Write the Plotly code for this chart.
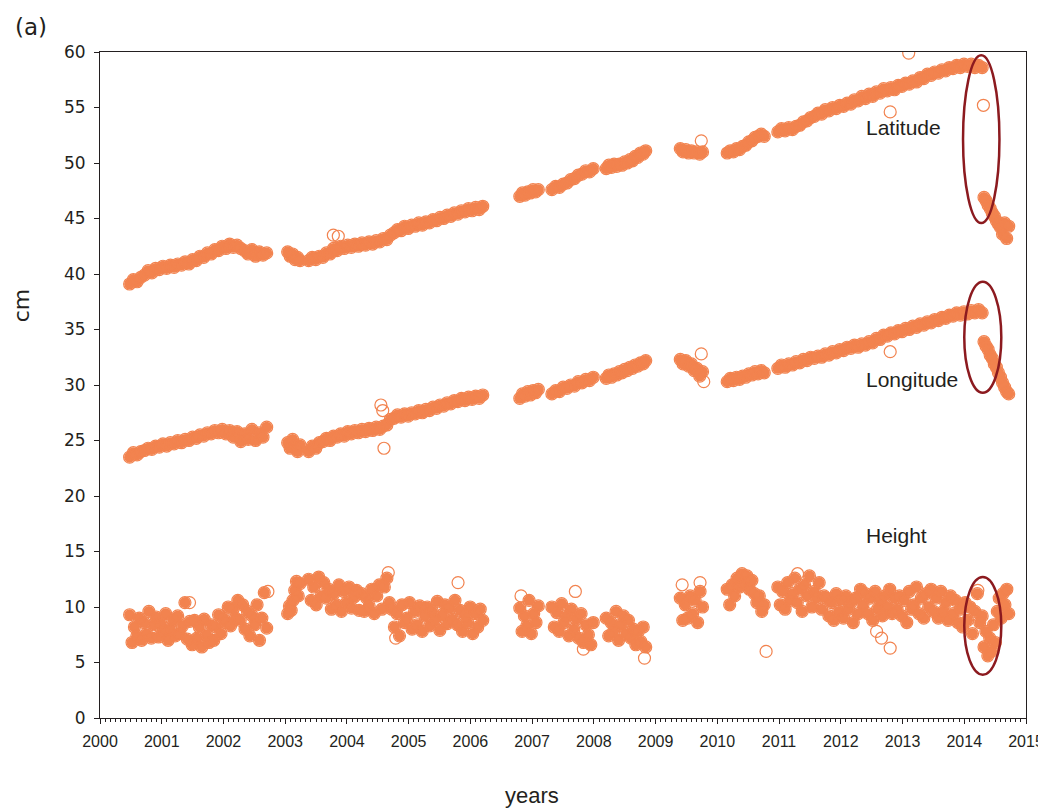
import numpy as np
import plotly.graph_objects as go

# observation segments (decimal years), gaps are shared by the three components
seg_start = [2000.48, 2003.04, 2003.38, 2006.80, 2007.32, 2008.20, 2009.40, 2010.16, 2010.98, 2014.32]
seg_end = [2002.70, 2003.24, 2006.20, 2007.10, 2007.99, 2008.84, 2009.76, 2010.76, 2014.29, 2014.72]

# Latitude (cm)
lat_values = [
    [39.1, 39.5, 39.3, 39.7, 39.9, 40.3, 40.1, 40.5, 40.4, 40.7,
     40.5, 40.8, 40.6, 40.9, 40.8, 41.1, 40.9, 41.3, 41.2, 41.6,
     41.5, 41.9, 41.8, 42.2, 42.1, 42.5, 42.3, 42.7, 42.4, 42.6,
     42.3, 42.1, 41.8, 42.2, 41.6, 42.0, 41.7, 41.9],
    [42.0, 41.6, 41.8, 41.3, 41.5, 41.2],
    [41.2, 41.5, 41.3, 41.6, 41.5, 41.9, 41.8, 42.3, 42.1, 42.5,
     42.3, 42.6, 42.4, 42.7, 42.5, 42.8, 42.6, 42.9, 42.7, 43.0,
     42.9, 43.2, 43.1, 43.5, 43.7, 44.0, 43.9, 44.3, 44.1, 44.4,
     44.3, 44.6, 44.4, 44.7, 44.6, 44.9, 44.8, 45.1, 45.0, 45.3,
     45.2, 45.5, 45.4, 45.7, 45.6, 45.9, 45.7, 46.0, 45.8, 46.1],
    [47.0, 47.3, 47.1, 47.4, 47.3, 47.6, 47.4, 47.6],
    [47.6, 47.9, 47.8, 48.1, 48.2, 48.5, 48.6, 48.9, 49.0, 49.3, 49.2, 49.5],
    [49.5, 49.8, 49.6, 49.9, 49.7, 49.9, 49.8, 50.1, 50.0, 50.3,
     50.2, 50.6, 50.5, 50.9, 50.8, 51.1],
    [51.3, 51.0, 51.2, 50.9, 51.1, 50.9, 51.0, 50.8, 51.0],
    [50.9, 51.1, 51.0, 51.3, 51.2, 51.5, 51.6, 51.9, 52.0, 52.3, 52.4, 52.6, 52.4],
    [52.8, 53.1, 52.9, 53.2, 53.0, 53.3, 53.4, 53.7, 53.8, 54.1,
     54.2, 54.5, 54.4, 54.8, 54.7, 55.0, 54.9, 55.2, 55.1, 55.4,
     55.3, 55.7, 55.6, 56.0, 55.8, 56.2, 56.0, 56.4, 56.3, 56.7,
     56.5, 56.8, 56.6, 57.0, 56.9, 57.2, 57.1, 57.4, 57.3, 57.7,
     57.6, 58.0, 57.9, 58.2, 58.1, 58.4, 58.3, 58.6, 58.5, 58.8,
     58.6, 58.9, 58.7, 58.9, 58.6, 58.8, 58.6],
    [46.9, 46.6, 46.2, 45.9, 45.5, 45.2, 44.8, 44.5, 44.2, 43.6, 44.6, 43.2, 44.3],
]
lat_out_x = [2003.78, 2003.86, 2009.74, 2012.80, 2013.10, 2014.31]
lat_out_y = [43.5, 43.4, 52.0, 54.6, 59.9, 55.2]

# Longitude (cm)
lon_values = [
    [23.5, 23.9, 23.7, 24.0, 24.1, 24.3, 24.2, 24.5, 24.4, 24.7,
     24.5, 24.8, 24.7, 25.0, 24.8, 25.1, 25.0, 25.3, 25.2, 25.5,
     25.4, 25.7, 25.6, 25.9, 25.7, 26.0, 25.6, 25.9, 25.3, 25.8,
     24.9, 25.6, 25.1, 26.0, 25.0, 25.7, 25.3, 26.2],
    [24.8, 24.3, 25.1, 24.5, 24.0, 24.6],
    [24.0, 24.5, 24.3, 24.8, 24.9, 25.2, 25.0, 25.4, 25.3, 25.6,
     25.4, 25.8, 25.6, 25.9, 25.7, 26.0, 25.8, 26.1, 25.9, 26.2,
     26.0, 26.3, 26.4, 26.9, 27.0, 27.3, 27.1, 27.4, 27.2, 27.5,
     27.4, 27.7, 27.5, 27.8, 27.7, 28.0, 27.9, 28.2, 28.1, 28.4,
     28.3, 28.6, 28.5, 28.8, 28.6, 28.9, 28.7, 29.0, 28.8, 29.1],
    [28.8, 29.2, 29.0, 29.4, 29.1, 29.5, 29.3, 29.6],
    [29.2, 29.5, 29.4, 29.8, 29.7, 30.0, 29.9, 30.3, 30.2, 30.5, 30.4, 30.7],
    [30.6, 30.9, 30.7, 31.0, 30.9, 31.2, 31.1, 31.4, 31.3, 31.6,
     31.5, 31.8, 31.7, 32.0, 31.9, 32.2],
    [32.3, 31.9, 32.2, 31.7, 31.9, 31.3, 31.5, 30.8, 31.2],
    [30.3, 30.6, 30.4, 30.7, 30.5, 30.8, 30.7, 31.0, 30.9, 31.2, 31.0, 31.3, 31.1],
    [31.5, 31.8, 31.6, 31.9, 31.8, 32.1, 32.0, 32.3, 32.2, 32.5,
     32.4, 32.6, 32.5, 32.8, 32.7, 33.0, 32.9, 33.2, 33.1, 33.4,
     33.3, 33.6, 33.4, 33.7, 33.6, 33.9, 33.8, 34.2, 34.1, 34.5,
     34.4, 34.7, 34.6, 34.9, 34.8, 35.1, 35.0, 35.3, 35.2, 35.5,
     35.4, 35.7, 35.6, 35.9, 35.8, 36.1, 36.0, 36.3, 36.2, 36.5,
     36.3, 36.6, 36.4, 36.7, 36.5, 36.8, 36.5],
    [33.9, 33.5, 33.2, 32.7, 32.4, 31.9, 31.6, 31.1, 30.7, 30.2, 29.8, 29.4, 29.2],
]
lon_out_x = [2004.55, 2004.58, 2004.60, 2009.74, 2009.78, 2012.80]
lon_out_y = [28.2, 27.7, 24.3, 32.8, 30.3, 33.0]

# Height (cm)
hgt_values = [
    [9.3, 6.8, 8.2, 7.4, 9.0, 7.0, 8.6, 7.6, 9.6, 7.2, 8.4,
     9.1, 7.3, 8.5, 7.8, 9.4, 7.0, 8.0, 8.8, 7.4, 9.2, 7.6, 8.3, 10.4, 7.1, 8.7,
     6.6, 8.8, 7.2, 8.2, 6.4, 8.9, 7.5, 6.8, 8.4, 7.0,
     8.2, 9.3, 7.6, 9.0, 8.6, 10.0, 8.3, 9.8, 9.0, 10.6, 8.8, 10.2,
     8.0, 9.6, 7.4, 9.2, 8.4, 10.2, 7.0, 9.0, 11.3, 8.1],
    [9.4, 10.1, 9.7, 10.6, 11.5, 12.3, 11.0, 12.1],
    [12.5, 10.6, 11.8, 10.2, 12.7, 11.0, 12.2, 10.8,
     11.6, 9.8, 11.2, 10.2, 12.0, 9.6, 11.4, 10.4, 11.8, 9.9, 10.9, 11.5, 9.7,
     11.2, 9.6, 10.8, 10.1, 11.6, 9.4, 11.0, 12.0, 9.8, 11.8, 12.6, 10.4,
     9.8, 8.2, 9.4, 7.4, 10.2, 8.6, 9.0, 10.4, 8.0, 9.6, 8.4, 10.1, 7.8, 9.2,
     10.0, 8.3, 9.6, 8.8, 10.5, 7.9, 9.3, 10.2, 8.5, 9.9, 8.9, 10.6,
     8.4, 9.7, 7.8, 9.2, 8.6, 10.0, 7.6, 9.4, 8.2, 9.8, 8.8],
    [9.9, 7.8, 9.2, 8.3, 10.6, 7.6, 9.4, 8.6, 10.1],
    [10.0, 8.2, 9.5, 7.8, 10.3, 8.6, 9.2, 7.4, 9.8, 8.0, 8.9, 7.2, 9.4, 6.8, 8.4, 7.5, 6.6, 8.6],
    [9.0, 7.4, 8.6, 7.8, 9.6, 7.0, 8.4, 9.2, 7.6, 8.8, 7.2, 8.0, 6.6, 7.8, 6.9, 8.2, 6.4],
    [10.8, 8.8, 10.2, 9.0, 11.0, 9.4, 10.6, 8.6, 11.4, 10.0],
    [11.6, 10.2, 12.0, 11.0, 12.6, 11.8, 13.0, 12.2, 12.8, 11.6, 12.4, 11.2, 10.4, 11.0, 9.6, 10.2],
    [11.8, 10.2, 11.4, 9.8, 12.2, 10.6, 11.2, 12.6, 10.4, 11.6, 9.6, 12.0, 11.0, 12.8, 10.0, 11.4, 10.8, 12.2, 9.8, 11.0,
     10.8, 9.2, 10.4, 8.8, 11.2, 9.6, 10.6, 9.0, 11.0, 9.8, 10.4, 8.6, 10.8, 9.4, 11.6,
     10.2, 11.2, 9.4, 10.8, 8.8, 11.4, 9.8, 10.6, 9.2, 11.0, 10.0, 11.6, 9.4, 10.8, 9.8,
     11.0, 9.2, 10.6, 8.6, 11.4, 9.8, 10.2, 11.8, 9.4, 10.8, 9.0, 11.2, 10.0, 11.6, 9.6,
     10.8, 9.0, 11.4, 9.6, 10.4, 8.8, 11.0, 9.4, 10.6, 8.6,
     9.8, 8.2, 10.4, 8.8, 10.0, 7.6, 9.6, 11.2, 8.6, 9.2],
    [6.4, 7.8, 5.6, 7.2, 6.0, 8.4, 6.8, 9.6, 10.8, 9.0, 11.2, 10.2, 11.6, 9.4],
]
hgt_out_x = [2001.45, 2002.72, 2004.67, 2004.79, 2005.80, 2006.82, 2007.70, 2007.83,
             2008.82, 2009.43, 2009.72, 2010.79, 2011.30, 2012.58, 2012.66, 2012.80, 2014.22]
hgt_out_y = [10.4, 11.4, 13.1, 7.2, 12.2, 11.0, 11.4, 6.2,
             5.4, 12.0, 12.2, 6.0, 13.0, 7.8, 7.2, 6.3, 11.5]

# red ellipses around the 2014 event: x0, x1, y0, y1
ell_x0 = [2013.98, 2014.00, 2014.00]
ell_x1 = [2014.57, 2014.60, 2014.60]
ell_y0 = [44.6, 29.3, 3.9]
ell_y1 = [59.7, 39.3, 12.7]

orange = "#f2834f"
ink = "#231f20"


def series(values):
    xs, ys = [], []
    for t0, t1, v in zip(seg_start, seg_end, values):
        xs.extend(np.linspace(t0, t1, len(v)))
        ys.extend(v)
    return xs, ys


fig = go.Figure()
for name, vals, ox, oy in [("Latitude", lat_values, lat_out_x, lat_out_y),
                           ("Longitude", lon_values, lon_out_x, lon_out_y),
                           ("Height", hgt_values, hgt_out_x, hgt_out_y)]:
    x, y = series(vals)
    # daily solutions overlap so much that the core of each band reads as solid
    fig.add_trace(go.Scatter(
        x=x, y=y, mode="markers", showlegend=False, hoverinfo="skip",
        marker=dict(symbol="circle", size=11, color=orange, line=dict(width=0)),
    ))
    fig.add_trace(go.Scatter(
        x=x + ox, y=y + oy, mode="markers", name=name, showlegend=False,
        marker=dict(symbol="circle-open", size=12, color=orange, line=dict(width=1.2, color=orange)),
    ))

for x0, x1, y0, y1 in zip(ell_x0, ell_x1, ell_y0, ell_y1):
    fig.add_shape(type="circle", xref="x", yref="y", x0=x0, x1=x1, y0=y0, y1=y1,
                  line=dict(color="#8c1a1f", width=2.5))

label_font = dict(family="Liberation Sans", size=21, color=ink)
for txt, yv in [("Latitude", 53.2), ("Longitude", 30.5), ("Height", 16.4)]:
    fig.add_annotation(x=2012.38, y=yv, text=txt, showarrow=False, xanchor="left",
                       yanchor="middle", font=label_font)

fig.add_annotation(x=2007.0, y=-0.117, xref="x", yref="paper", text="years", showarrow=False,
                   xanchor="center", yanchor="middle",
                   font=dict(family="Liberation Sans", size=22, color=ink))
fig.add_annotation(x=-0.085, y=0.62, xref="paper", yref="paper", text="cm", showarrow=False,
                   xanchor="center", yanchor="middle", textangle=-90,
                   font=dict(family="DejaVu Sans", size=22, color=ink))
fig.add_annotation(x=-0.0745, y=1.0375, xref="paper", yref="paper", text="(a)", showarrow=False,
                   xanchor="center", yanchor="middle",
                   font=dict(family="DejaVu Sans", size=23, color=ink))

fig.update_xaxes(
    range=[2000, 2015], tickmode="linear", tick0=2000, dtick=1, automargin=False,
    ticks="outside", ticklen=5, tickwidth=1, tickcolor=ink, ticklabelstandoff=4,
    ticklabeloverflow="allow",
    minor=dict(ticks="outside", ticklen=3, tickwidth=1, tickcolor=ink, dtick=1 / 12, showgrid=False),
    showline=True, linecolor=ink, linewidth=1, mirror=True,
    showgrid=False, zeroline=False,
    tickfont=dict(family="Liberation Sans", size=16, color=ink),
)
fig.update_yaxes(
    range=[0, 60], tickmode="linear", tick0=0, dtick=5, automargin=False,
    ticks="outside", ticklen=5, tickwidth=1, tickcolor=ink, ticklabelstandoff=5,
    showline=True, linecolor=ink, linewidth=1, mirror=True,
    showgrid=False, zeroline=False,
    tickfont=dict(family="DejaVu Sans", size=17, color=ink),
)
# the page body offsets the figure by 8 px; margins put the axes where the reference has them
fig.update_layout(
    width=1046, height=800,
    margin=dict(l=92, r=28, t=44, b=90),
    plot_bgcolor="white", paper_bgcolor="white",
)

fig.write_html("out.html")
